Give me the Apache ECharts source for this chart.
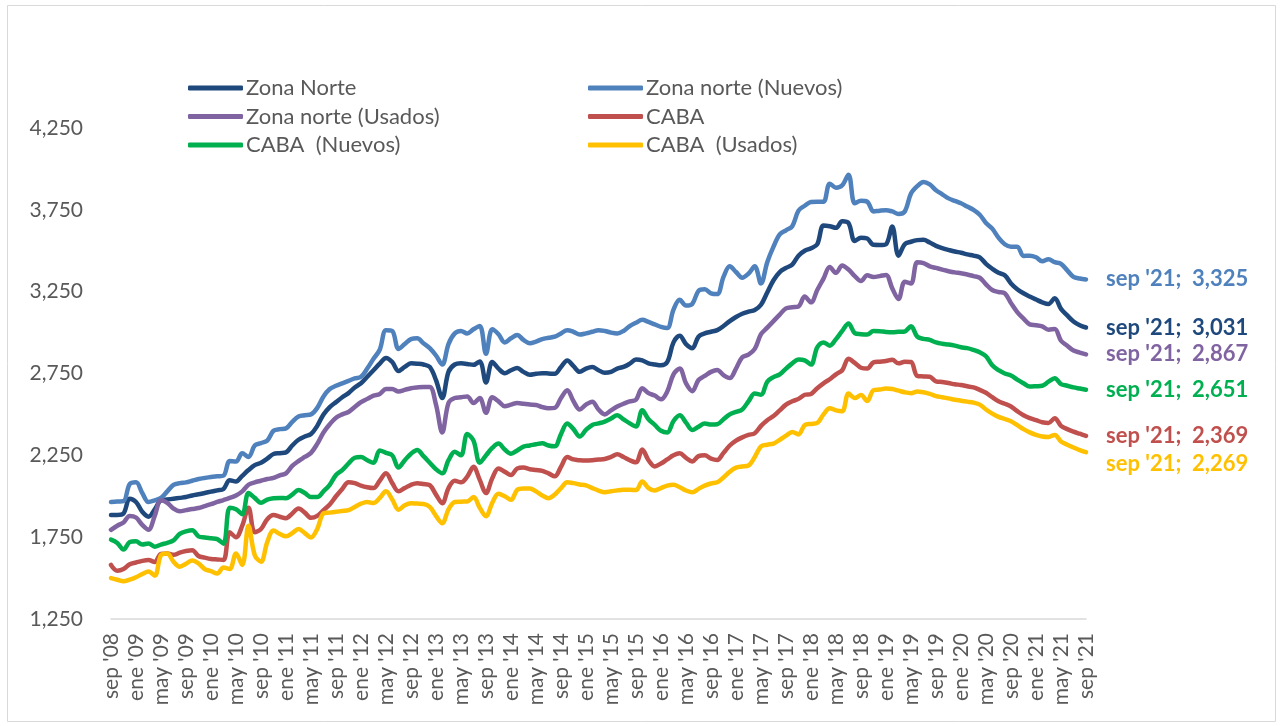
<!DOCTYPE html>
<html>
<head>
<meta charset="utf-8">
<script src="https://cdn.jsdelivr.net/npm/echarts@6/dist/echarts.min.js"></script>
<style>
html,body{margin:0;padding:0;background:#fff;}
#c{width:1282px;height:726px;}
</style>
</head>
<body>
<div id="c"></div>
<script>
// Categories: monthly, sep '08 .. sep '21
const monthNames = ['ene','feb','mar','abr','may','jun','jul','ago','sep','oct','nov','dic'];
const categories = [];
for (let y = 2008, m = 8; y < 2021 || (y === 2021 && m <= 8); ) {
  categories.push(monthNames[m] + " '" + String(y).slice(2));
  m++; if (m === 12) { m = 0; y++; }
}

const yTicks = [1250, 1750, 2250, 2750, 3250, 3750, 4250];

const zonaNorte = [
1886,1886,1895,1985,1965,1905,1875,1920,1975,1980,1985,1990,
1995,2005,2012,2020,2028,2036,2045,2098,2090,2125,2160,2190,
2205,2230,2258,2263,2268,2310,2345,2365,2380,2430,2500,2545,
2575,2605,2630,2665,2690,2730,2770,2810,2845,2820,2765,2790,
2812,2810,2805,2790,2710,2600,2760,2805,2812,2808,2803,2824,
2695,2820,2780,2752,2770,2783,2760,2742,2748,2752,2750,2748,
2790,2830,2795,2760,2780,2790,2770,2755,2760,2780,2790,2810,
2835,2830,2812,2805,2800,2820,2940,2980,2930,2905,2975,2995,
3005,3015,3040,3070,3095,3115,3128,3138,3170,3245,3320,3370,
3395,3415,3470,3500,3515,3540,3655,3650,3640,3680,3670,3560,
3580,3575,3536,3535,3540,3648,3470,3540,3555,3565,3567,3550,
3530,3516,3505,3495,3488,3478,3470,3460,3420,3390,3365,3350,
3300,3265,3240,3220,3202,3185,3175,3210,3145,3105,3068,3045,
3031];

const zonaNorteNuevos = [
1965,1968,1970,2075,2085,2020,1965,1975,1990,2030,2070,2080,
2085,2095,2105,2112,2118,2122,2126,2215,2212,2262,2240,2310,
2325,2340,2400,2410,2415,2455,2487,2495,2500,2540,2610,2655,
2675,2690,2705,2720,2730,2780,2840,2895,3015,3010,2900,2930,
2960,2965,2935,2905,2860,2805,2930,2995,3010,2995,3020,3040,
2870,3020,2990,2940,2965,2985,2955,2935,2945,2960,2968,2975,
2995,3015,3005,2988,2995,3005,3015,3010,3000,2995,3010,3040,
3060,3078,3065,3050,3035,3028,3140,3200,3165,3175,3255,3265,
3240,3235,3340,3405,3370,3335,3360,3405,3300,3430,3525,3600,
3625,3650,3745,3775,3798,3800,3800,3910,3885,3900,3965,3790,
3805,3800,3740,3745,3748,3740,3725,3740,3850,3895,3920,3905,
3870,3845,3820,3805,3790,3770,3750,3720,3670,3635,3580,3540,
3525,3525,3468,3470,3460,3436,3448,3430,3420,3380,3340,3330,
3325];

const zonaNorteUsados = [
1795,1820,1840,1880,1870,1825,1795,1880,1975,1960,1925,1908,
1915,1922,1928,1940,1952,1965,1977,1990,2005,2030,2070,2085,
2095,2105,2112,2128,2140,2185,2215,2240,2265,2320,2390,2440,
2480,2500,2515,2545,2575,2595,2615,2625,2655,2655,2640,2650,
2660,2665,2668,2668,2560,2390,2570,2600,2605,2610,2570,2600,
2510,2605,2580,2550,2560,2570,2565,2560,2558,2545,2538,2540,
2600,2648,2580,2530,2560,2578,2530,2500,2525,2548,2565,2580,
2590,2660,2630,2615,2592,2640,2745,2780,2690,2642,2710,2735,
2760,2772,2740,2722,2780,2850,2865,2900,2990,3030,3070,3110,
3148,3155,3160,3220,3185,3260,3330,3400,3365,3410,3385,3345,
3315,3350,3340,3345,3352,3270,3205,3310,3300,3430,3425,3405,
3395,3385,3375,3368,3362,3355,3345,3335,3295,3260,3248,3240,
3180,3125,3085,3050,3045,3038,3018,3022,2950,2920,2890,2878,
2867];

const caba = [
1580,1545,1555,1585,1595,1605,1610,1598,1648,1650,1642,1655,
1665,1670,1635,1625,1617,1614,1611,1780,1750,1820,1930,1780,
1800,1860,1885,1875,1866,1895,1925,1900,1868,1880,1915,1950,
2000,2045,2085,2080,2065,2055,2050,2095,2140,2080,2030,2050,
2070,2080,2075,2068,2010,1957,2050,2095,2085,2120,2180,2100,
2020,2110,2170,2150,2130,2170,2175,2165,2160,2155,2140,2122,
2180,2240,2225,2220,2218,2220,2224,2228,2240,2256,2240,2220,
2207,2285,2220,2182,2200,2225,2250,2262,2235,2212,2245,2250,
2230,2222,2265,2310,2340,2360,2375,2385,2430,2465,2490,2525,
2560,2580,2595,2620,2625,2660,2690,2715,2745,2770,2840,2815,
2785,2780,2818,2822,2826,2834,2812,2822,2820,2735,2732,2730,
2702,2698,2692,2684,2680,2672,2665,2650,2632,2605,2580,2565,
2548,2520,2495,2477,2465,2452,2448,2477,2430,2410,2395,2382,
2369];

const cabaNuevos = [
1735,1715,1675,1720,1725,1705,1712,1692,1705,1715,1730,1770,
1785,1792,1755,1748,1743,1738,1710,1930,1920,1890,2020,1990,
1960,1980,1988,1990,1988,2010,2038,2020,1995,1995,2030,2070,
2130,2160,2200,2235,2240,2220,2205,2280,2265,2250,2175,2220,
2260,2283,2245,2205,2165,2140,2220,2272,2250,2380,2340,2205,
2250,2295,2322,2285,2260,2280,2303,2310,2318,2324,2310,2305,
2380,2445,2410,2365,2405,2436,2445,2456,2475,2495,2470,2445,
2426,2525,2470,2436,2400,2390,2460,2495,2450,2405,2425,2445,
2438,2440,2470,2500,2515,2530,2580,2628,2620,2700,2728,2745,
2780,2812,2835,2830,2805,2910,2940,2920,2960,3010,3055,2997,
2990,2988,3010,3008,3004,3002,3005,3007,3038,2975,2962,2955,
2940,2932,2927,2920,2910,2905,2894,2880,2855,2800,2770,2750,
2738,2712,2690,2670,2672,2675,2700,2721,2685,2675,2665,2658,
2651];

const cabaUsados = [
1500,1490,1480,1490,1505,1525,1540,1515,1640,1650,1600,1570,
1588,1608,1590,1555,1542,1528,1565,1555,1650,1580,1820,1640,
1600,1720,1790,1770,1755,1775,1800,1775,1748,1800,1895,1900,
1905,1910,1915,1935,1955,1965,1958,1990,2030,1980,1918,1945,
1957,1955,1953,1935,1880,1835,1920,1965,1967,1968,1995,1930,
1878,1960,2015,2000,1978,2040,2048,2048,2030,2005,1988,2010,
2050,2085,2080,2072,2066,2050,2035,2025,2030,2036,2040,2040,
2038,2090,2050,2035,2050,2065,2070,2055,2035,2024,2045,2065,
2078,2085,2115,2150,2175,2182,2188,2240,2305,2315,2322,2345,
2370,2392,2378,2435,2442,2448,2500,2538,2525,2520,2628,2600,
2618,2582,2648,2652,2658,2655,2645,2635,2630,2640,2635,2625,
2612,2605,2598,2590,2584,2578,2572,2560,2530,2505,2485,2472,
2458,2435,2410,2390,2375,2365,2362,2375,2335,2315,2298,2282,
2269];

const seriesDefs = [
  {name: 'Zona Norte', data: zonaNorte, color: '#1F497D', off: 0},
  {name: 'Zona norte (Nuevos)', data: zonaNorteNuevos, color: '#4F81BD', off: 0},
  {name: 'Zona norte (Usados)', data: zonaNorteUsados, color: '#8064A2', off: 0},
  {name: 'CABA', data: caba, color: '#C0504D', off: 0},
  {name: 'CABA  (Nuevos)', data: cabaNuevos, color: '#00B050', off: 0},
  {name: 'CABA  (Usados)', data: cabaUsados, color: '#FFC000', off: 12}
];

const fmt = v => Number(v).toLocaleString('en-US');
const FONT = 'Lato';

const legendText = {fontFamily: FONT, fontSize: 22, color: '#595959', lineHeight: 24, padding: [0,0,0,-2]};

const chart = echarts.init(document.getElementById('c'), null, {renderer: 'canvas'});
chart.setOption({
  animation: false,
  backgroundColor: '#ffffff',
  graphic: [{
    type: 'rect', shape: {x: 7.5, y: 5.5, width: 1268, height: 716},
    style: {fill: 'none', stroke: '#D9D9D9', lineWidth: 1}, silent: true
  }],
  grid: {left: 111, right: 196, top: 128, bottom: 107},
  legend: [{
    orient: 'vertical', left: 183, top: 71,
    data: ['Zona Norte', 'Zona norte (Usados)', 'CABA  (Nuevos)'],
    icon: 'roundRect', itemWidth: 55, itemHeight: 5, itemGap: 4.5,
    textStyle: legendText, selectedMode: false
  }, {
    orient: 'vertical', left: 583, top: 71,
    data: ['Zona norte (Nuevos)', 'CABA', 'CABA  (Usados)'],
    icon: 'roundRect', itemWidth: 55, itemHeight: 5, itemGap: 4.5,
    textStyle: legendText, selectedMode: false
  }],
  xAxis: {
    type: 'category', data: categories, boundaryGap: false,
    axisLine: {lineStyle: {color: '#D9D9D9', width: 1.5}},
    axisTick: {show: false},
    axisLabel: {interval: 3, rotate: 90, margin: 14, fontFamily: FONT, fontSize: 21, color: '#595959'},
    splitLine: {show: false}
  },
  yAxis: {
    type: 'value', min: yTicks[0], max: yTicks[yTicks.length - 1], interval: 500,
    axisLine: {show: false}, axisTick: {show: false}, splitLine: {show: false},
    axisLabel: {margin: 28, fontFamily: FONT, fontSize: 21, color: '#595959', formatter: v => fmt(v)}
  },
  series: seriesDefs.map(d => ({
    name: d.name, type: 'line', data: d.data, symbol: 'none', smooth: 0.35,
    color: d.color,
    lineStyle: {width: 4.5, color: d.color, cap: 'round', join: 'round'},
    endLabel: {
      show: true, distance: 20, offset: [0, d.off],
      fontFamily: FONT, fontSize: 22, fontWeight: 'bold', color: d.color,
      formatter: p => p.name + ';  ' + fmt(p.value)
    }
  }))
});
</script>
</body>
</html>
